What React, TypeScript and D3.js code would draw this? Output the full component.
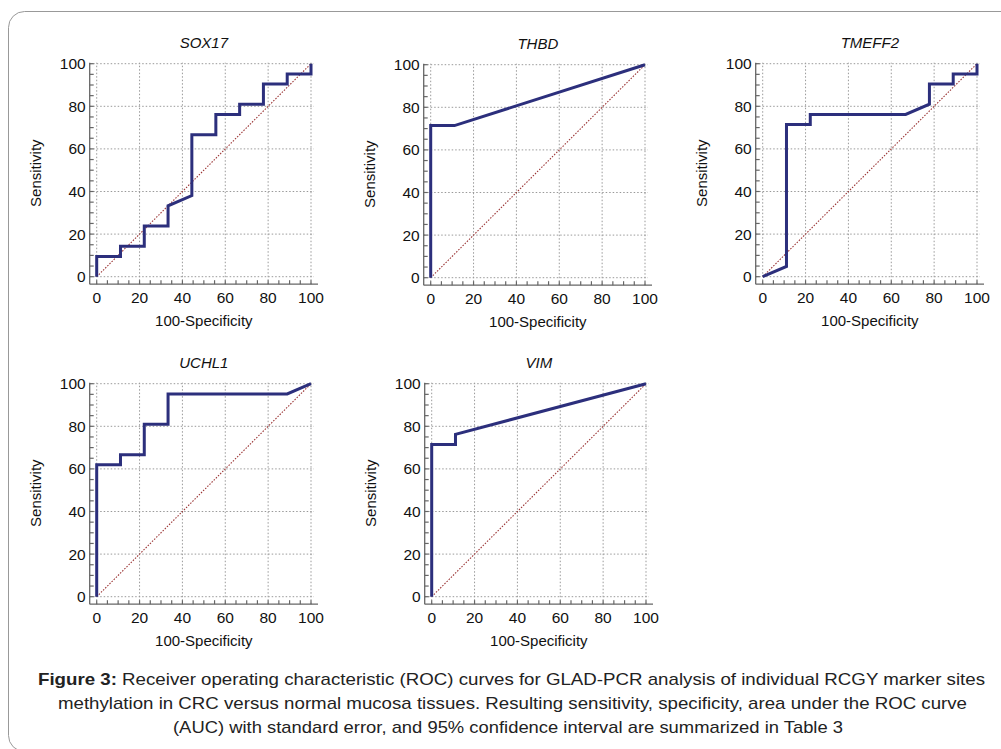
import React from "react";
import * as d3 from "d3";

const markers = ["SOX17", "THBD", "TMEFF2", "UCHL1", "VIM"];

const sox17X = [0, 0, 11.1, 11.1, 22.2, 22.2, 33.3, 33.3, 44.4, 44.4, 55.6, 55.6, 66.7, 66.7, 77.8, 77.8, 88.9, 88.9, 100, 100];
const sox17Y = [0, 9.5, 9.5, 14.3, 14.3, 23.8, 23.8, 33.3, 38.1, 66.7, 66.7, 76.2, 76.2, 81.0, 81.0, 90.5, 90.5, 95.2, 95.2, 100];

const thbdX = [0, 0, 11.1, 100];
const thbdY = [0, 71.4, 71.4, 100];

const tmeff2X = [0, 11.1, 11.1, 22.2, 22.2, 66.7, 77.8, 77.8, 88.9, 88.9, 100, 100];
const tmeff2Y = [0, 4.8, 71.4, 71.4, 76.2, 76.2, 81.0, 90.5, 90.5, 95.2, 95.2, 100];

const uchl1X = [0, 0, 11.1, 11.1, 22.2, 22.2, 33.3, 33.3, 88.9, 100];
const uchl1Y = [0, 61.9, 61.9, 66.7, 66.7, 81.0, 81.0, 95.2, 95.2, 100];

const vimX = [0, 0, 11.1, 11.1, 100];
const vimY = [0, 71.4, 71.4, 76.2, 100];

const seriesX = [sox17X, thbdX, tmeff2X, uchl1X, vimX];
const seriesY = [sox17Y, thbdY, tmeff2Y, uchl1Y, vimY];

const majorTicks = [0, 20, 40, 60, 80, 100];
const minorTicks = d3.range(0, 101, 5);

const captionLines = [
  "Receiver operating characteristic (ROC) curves for GLAD-PCR analysis of individual RCGY marker sites",
  "methylation in CRC versus normal mucosa tissues. Resulting sensitivity, specificity, area under the ROC curve",
  "(AUC) with standard error, and 95% confidence interval are summarized in Table 3",
];

// panel layout (left of x=0, top of y=100)
const panelPos = [
  { x: 96.7, y: 63.7 },
  { x: 430.7, y: 64.7 },
  { x: 762.7, y: 63.7 },
  { x: 96.7, y: 383.7 },
  { x: 431.7, y: 383.7 },
];
const PW = 214.3;
const PH = 213;

const FONT = "'Liberation Sans', Arial, Helvetica, sans-serif";

function Panel({ idx }: { idx: number }) {
  const { x: ox, y: oy } = panelPos[idx];
  const xs = d3.scaleLinear().domain([0, 100]).range([ox, ox + PW]);
  const ys = d3.scaleLinear().domain([0, 100]).range([oy + PH, oy]);
  const axX = ox - 7;
  const axY = oy + PH + 7.5;
  const pts = seriesX[idx].map((v, i) => [v, seriesY[idx][i]] as [number, number]);
  const line = d3
    .line<[number, number]>()
    .x((d) => xs(d[0]))
    .y((d) => ys(d[1]));
  const axisColor = "#666";
  return (
    <g>
      {/* grid */}
      {majorTicks.map((t) => (
        <line key={"gx" + t} x1={xs(t)} x2={xs(t)} y1={axY} y2={ys(100) - 1} stroke="#999" strokeWidth={1} strokeDasharray="1.5,2" />
      ))}
      {majorTicks.map((t) => (
        <line key={"gy" + t} y1={ys(t)} y2={ys(t)} x1={axX} x2={xs(100) + 3} stroke="#999" strokeWidth={1} strokeDasharray="1.5,2" />
      ))}
      {/* diagonal */}
      <line x1={xs(0)} y1={ys(0)} x2={xs(100)} y2={ys(100)} stroke="#9b3535" strokeWidth={1.1} strokeDasharray="1.5,1.5" />
      {/* axes */}
      <line x1={axX} x2={axX} y1={ys(100) - 1} y2={axY} stroke={axisColor} strokeWidth={1.3} />
      <line x1={axX} x2={xs(100) + 7} y1={axY} y2={axY} stroke={axisColor} strokeWidth={1.3} />
      {minorTicks.map((t) => (
        <line key={"tx" + t} x1={xs(t)} x2={xs(t)} y1={axY} y2={axY - 4} stroke={axisColor} strokeWidth={1.2} />
      ))}
      {minorTicks.map((t) => (
        <line key={"ty" + t} y1={ys(t)} y2={ys(t)} x1={axX} x2={axX + 4} stroke={axisColor} strokeWidth={1.2} />
      ))}
      {/* curve */}
      <path d={line(pts) || ""} fill="none" stroke="#2c2f7c" strokeWidth={3} strokeLinejoin="miter" />
      {/* labels */}
      {majorTicks.map((t) => (
        <text key={"lx" + t} x={xs(t)} y={axY + 19} textAnchor="middle" fontSize={15.5} fontFamily={FONT} fill="#111">
          {t}
        </text>
      ))}
      {majorTicks.map((t) => (
        <text key={"ly" + t} x={axX - 4} y={ys(t) + 5.5} textAnchor="end" fontSize={15.5} fontFamily={FONT} fill="#111">
          {t}
        </text>
      ))}
      <text x={(xs(0) + xs(100)) / 2} y={axY + 42} textAnchor="middle" fontSize={15} fontFamily={FONT} fill="#111">
        100-Specificity
      </text>
      <text
        transform={`translate(${axX - 49},${(ys(0) + ys(100)) / 2 + 3}) rotate(-90)`}
        textAnchor="middle"
        fontSize={15}
        fontFamily={FONT}
        fill="#111"
      >
        Sensitivity
      </text>
      <text x={(xs(0) + xs(100)) / 2} y={oy - 16} textAnchor="middle" fontSize={15} fontStyle="italic" fontFamily={FONT} fill="#111">
        {markers[idx]}
      </text>
    </g>
  );
}

const captionGeom = [
  { x1: 38, x2: 985, y: 685 },
  { x1: 58, x2: 967, y: 709 },
  { x1: 173, x2: 843, y: 733 },
];

export default function App() {
  return (
    <svg width={1001} height={749} style={{ position: "absolute", left: 0, top: 0, background: "#fff" }}>
      <rect x={8.5} y={11.5} width={1010} height={740} rx={16} ry={16} fill="none" stroke="#999" strokeWidth={1} />
      {markers.map((m, i) => (
        <Panel key={m} idx={i} />
      ))}
      {captionLines.map((l, i) => (
        <text
          key={i}
          x={captionGeom[i].x1}
          y={captionGeom[i].y}
          textLength={captionGeom[i].x2 - captionGeom[i].x1}
          lengthAdjust="spacingAndGlyphs"
          fontSize={17}
          fontFamily={FONT}
          fill="#222"
        >
          {i === 0 ? <tspan fontWeight="bold">Figure 3: </tspan> : null}
          {l}
        </text>
      ))}
    </svg>
  );
}
